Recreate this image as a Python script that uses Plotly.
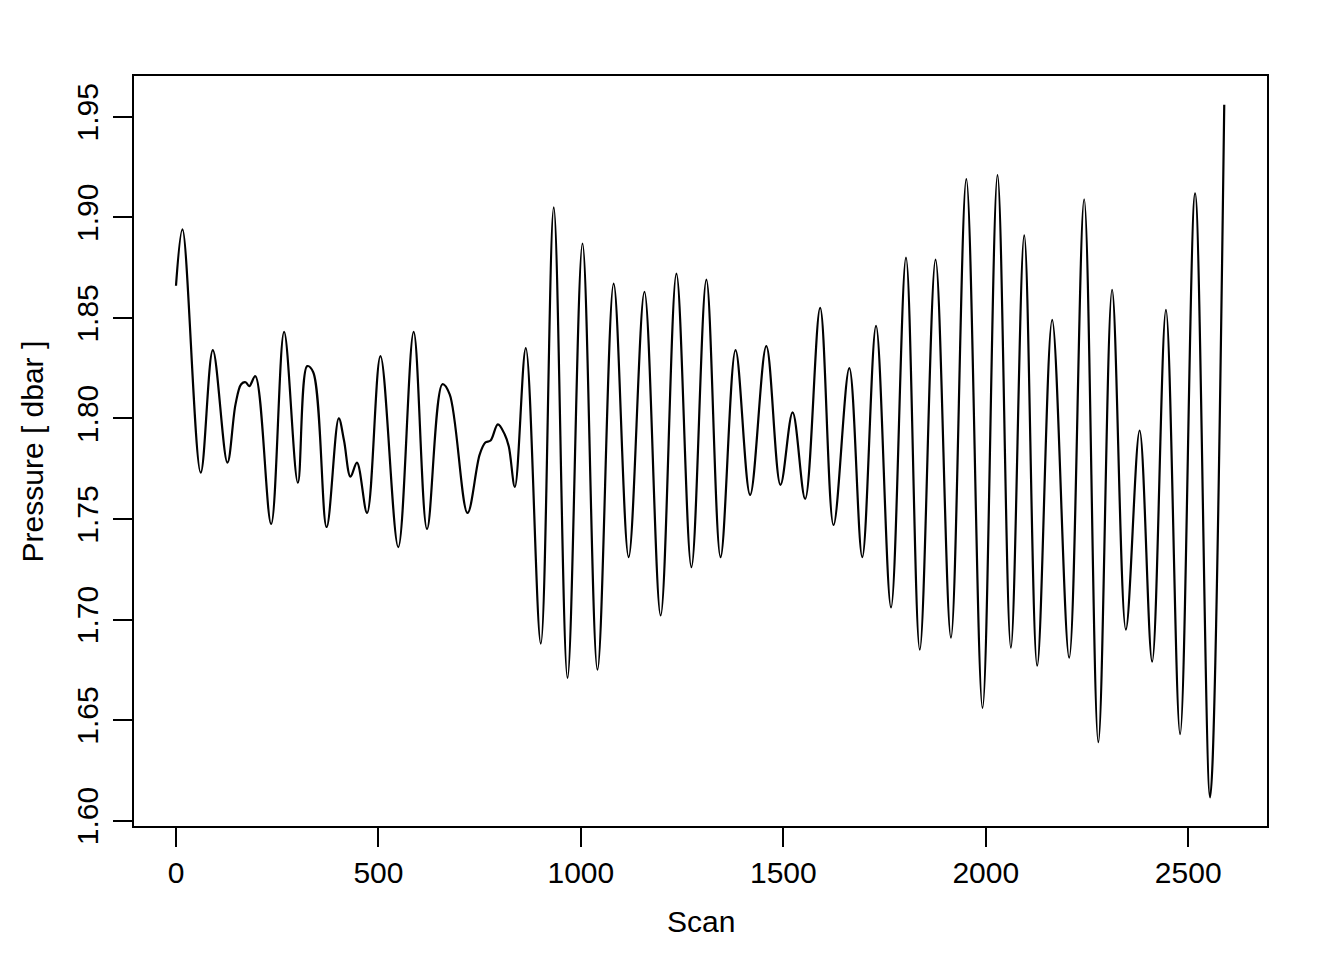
import plotly.graph_objects as go

# Scan index and pressure (dbar) at turning points
scan = [0, 16, 61, 91, 127, 147, 161, 172, 181, 196,
        235, 267, 301, 324, 339, 372, 402, 415, 431, 447,
        472, 505, 549, 587, 620, 658, 676, 720, 750, 764,
        777, 795, 812, 822, 837, 864, 901, 933, 967, 1004,
        1041, 1081, 1118, 1157, 1197, 1236, 1273, 1310, 1345, 1382,
        1418, 1458, 1493, 1523, 1554, 1591, 1624, 1663, 1695, 1729,
        1766, 1803, 1837, 1876, 1914, 1952, 1992, 2029, 2062, 2095,
        2127, 2164, 2206, 2243, 2278, 2312, 2346, 2380, 2411, 2445,
        2480, 2517, 2554, 2589]
pressure = [1.866, 1.894, 1.773, 1.834, 1.778, 1.807, 1.817, 1.818, 1.816, 1.821,
            1.7475, 1.843, 1.768, 1.826, 1.823, 1.746, 1.800, 1.789, 1.771, 1.778,
            1.753, 1.831, 1.736, 1.843, 1.745, 1.817, 1.812, 1.753, 1.782, 1.788,
            1.789, 1.797, 1.792, 1.786, 1.766, 1.835, 1.688, 1.905, 1.671, 1.887,
            1.675, 1.867, 1.731, 1.863, 1.702, 1.872, 1.726, 1.869, 1.731, 1.834,
            1.762, 1.836, 1.767, 1.803, 1.760, 1.855, 1.747, 1.825, 1.731, 1.846,
            1.706, 1.880, 1.685, 1.879, 1.691, 1.919, 1.656, 1.921, 1.686, 1.891,
            1.677, 1.849, 1.681, 1.909, 1.639, 1.864, 1.695, 1.794, 1.679, 1.854,
            1.643, 1.912, 1.6115, 1.956]

x_ticks = [0, 500, 1000, 1500, 2000, 2500]
y_ticks = [1.60, 1.65, 1.70, 1.75, 1.80, 1.85, 1.90, 1.95]

FONT = "Liberation Sans, Arial, Helvetica, sans-serif"

fig = go.Figure()
fig.add_trace(go.Scatter(
    x=scan, y=pressure, mode="lines",
    line=dict(color="black", width=2.2, shape="spline", smoothing=1.0),
    showlegend=False, hoverinfo="x+y",
))

axis_common = dict(
    showgrid=False, zeroline=False, showline=True, mirror=True,
    linecolor="black", linewidth=1.6,
    ticks="outside", ticklen=19, tickwidth=1.6, tickcolor="black",
    tickfont=dict(family=FONT, size=30, color="black"),
    automargin=False,
)

fig.update_layout(
    width=1344, height=960,
    paper_bgcolor="white", plot_bgcolor="white",
    margin=dict(l=126, r=85, t=68, b=142),
    xaxis=dict(range=[-103.7, 2694.6], tickvals=x_ticks,
               ticktext=[str(v) for v in x_ticks], **axis_common),
    yaxis=dict(range=[1.5973, 1.9703], tickvals=y_ticks,
               ticktext=[f"{v:.2f}" for v in y_ticks], tickangle=-90,
               ticklabelstandoff=3, **axis_common),
    annotations=[
        dict(text="Scan", xref="paper", yref="paper", x=0.5, y=-0.1267,
             xanchor="center", yanchor="middle", showarrow=False,
             font=dict(family=FONT, size=30, color="black")),
        dict(text="Pressure [ dbar ]", xref="paper", yref="paper",
             x=-0.0896, y=0.5, xanchor="center", yanchor="middle",
             textangle=-90, showarrow=False,
             font=dict(family=FONT, size=30, color="black")),
    ],
)

fig.write_html("out.html")
